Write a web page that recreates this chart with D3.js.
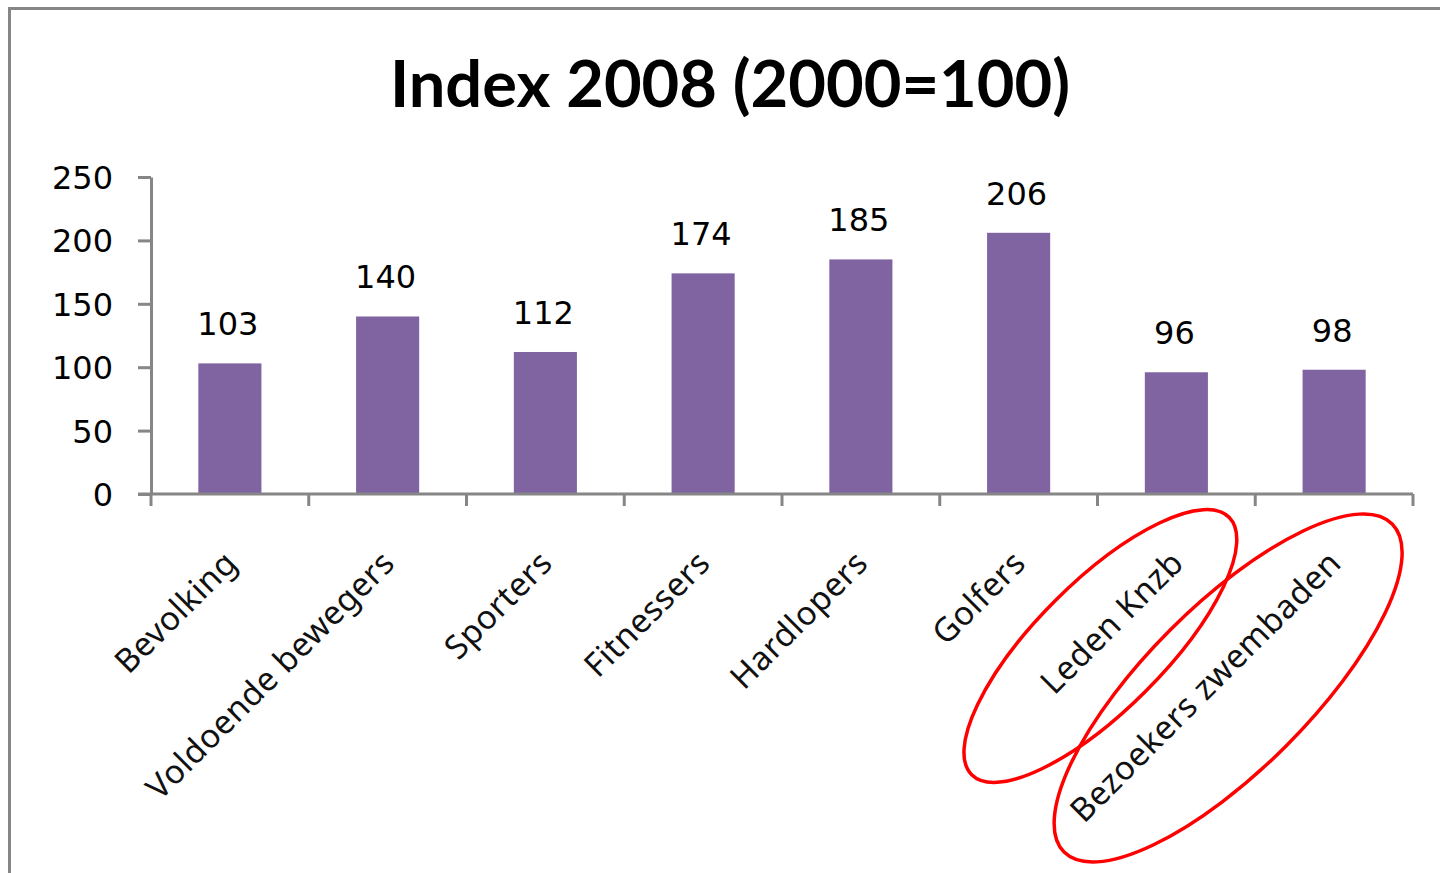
<!DOCTYPE html>
<html>
<head>
<meta charset="utf-8">
<script src="https://cdn.jsdelivr.net/npm/d3@7"></script>
<style>
  html, body { margin: 0; padding: 0; background: #fff; }
  svg { display: block; }
  .num { font-family: "DejaVu Sans", sans-serif; font-size: 32px; fill: #000; }
  .cat { font-family: "Noto Sans", sans-serif; font-size: 33px; fill: #111; letter-spacing: 0.5px; }
</style>
</head>
<body>
<svg id="chart" width="1440" height="873"></svg>
<script>
// data
const categories = ["Bevolking", "Voldoende bewegers", "Sporters", "Fitnessers",
                    "Hardlopers", "Golfers", "Leden Knzb", "Bezoekers zwembaden"];
const values = [103, 140, 112, 174, 185, 206, 96, 98];
const yTicks = [0, 50, 100, 150, 200, 250];
const title = "Index 2008 (2000=100)";
// the two hand-drawn rings round the last labels
const circled = ["Leden Knzb", "Bezoekers zwembaden"];

const grey = "#868686";
const svg = d3.select("#chart");

// frame of the chart (top and left edge visible)
svg.append("path")
  .attr("d", "M9.5,1000 V8.5 H1500")
  .attr("fill", "none").attr("stroke", grey).attr("stroke-width", 3);

svg.append("text")
  .attr("x", 730).attr("y", 107)
  .attr("text-anchor", "middle")
  .style("font-family", "Lato, sans-serif")
  .style("font-weight", "bold")
  .style("font-size", "65px")
  .text(title);

const x = d3.scaleBand().domain(categories).range([151, 1413])
  .paddingInner(0.6).paddingOuter(0.3);
const y = d3.scaleLinear().domain([0, 250]).range([494, 177]);

// bars
svg.selectAll(".bar").data(values).enter().append("rect")
  .attr("class", "bar")
  .attr("x", (d, i) => x(categories[i]))
  .attr("width", x.bandwidth())
  .attr("y", d => y(d))
  .attr("height", d => y(0) - y(d))
  .attr("fill", "#8064A2");

// value labels
svg.selectAll(".val").data(values).enter().append("text")
  .attr("class", "num")
  .attr("x", (d, i) => x(categories[i]) + x.bandwidth() / 2 - 2)
  .attr("y", d => y(d) - 28)
  .attr("text-anchor", "middle")
  .text(d => d);

// y axis
const yAxis = svg.append("g").attr("transform", "translate(151,0)")
  .call(d3.axisLeft(y).tickValues(yTicks).tickSize(13).tickSizeOuter(0).tickPadding(25));
yAxis.select(".domain").attr("stroke", grey).attr("stroke-width", 3);
yAxis.selectAll(".tick line").attr("stroke", grey).attr("stroke-width", 3);
yAxis.selectAll(".tick text").attr("class", "num").attr("dy", "0.36em").attr("fill", "#000");

// x axis with labels at band centres
const xAxis = svg.append("g").attr("transform", "translate(0,494)")
  .call(d3.axisBottom(x).tickSize(0).tickSizeOuter(0));
xAxis.select(".domain").remove();
xAxis.selectAll(".tick text")
  .attr("class", "cat")
  .attr("y", 0).attr("dy", 0)
  .attr("text-anchor", "end")
  .attr("transform", "translate(9,71) rotate(-45)");

// axis line and boundary ticks between categories
const step = x.step();
const bounds = categories.map(c => x(c) - step * x.paddingInner() / 2);
bounds.push(x(categories[categories.length - 1]) + x.bandwidth() + step * x.paddingInner() / 2);
svg.append("line")
  .attr("x1", 138).attr("x2", bounds[bounds.length - 1])
  .attr("y1", y(0)).attr("y2", y(0))
  .attr("stroke", grey).attr("stroke-width", 3);
svg.selectAll(".btick").data(bounds).enter().append("line")
  .attr("x1", d => d).attr("x2", d => d)
  .attr("y1", y(0)).attr("y2", y(0) + 12)
  .attr("stroke", grey).attr("stroke-width", 3);

// red rings
const rings = [
  { cat: circled[0], dx: -76, dy: 152, rx: 182, ry: 64, rot: -45 },
  { cat: circled[1], dx: -106, dy: 194, rx: 232, ry: 82, rot: -45 }
];
svg.selectAll(".ring").data(rings).enter().append("ellipse")
  .attr("transform", d => `translate(${x(d.cat) + x.bandwidth() / 2 + d.dx},${y(0) + d.dy}) rotate(${d.rot})`)
  .attr("rx", d => d.rx).attr("ry", d => d.ry)
  .attr("fill", "none").attr("stroke", "#FF0000").attr("stroke-width", 3.5);
</script>
</body>
</html>
